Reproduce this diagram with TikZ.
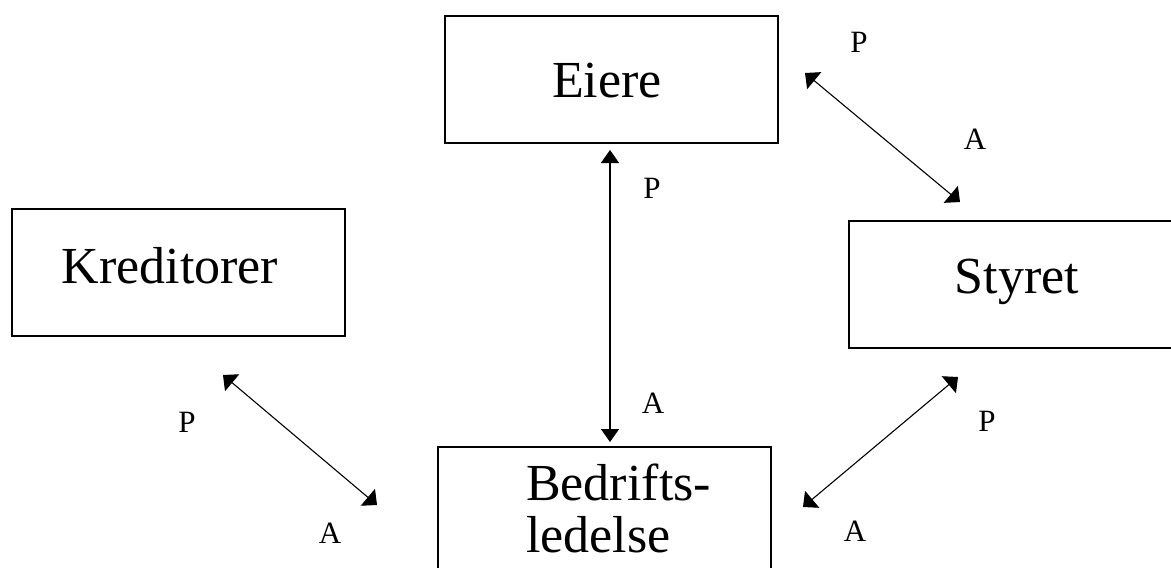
\documentclass[tikz,border=0pt]{standalone}
\usepackage{fontspec}
\setmainfont{Liberation Serif}
\usetikzlibrary{arrows.meta}
\tikzset{
  box/.style={draw=black, line width=2pt, minimum width=333pt, minimum height=127pt, inner sep=0pt},
  big/.style={font=\fontsize{52}{52}\selectfont, inner sep=0pt, anchor=base},
  lbl/.style={font=\fontsize{31}{31}\selectfont, inner sep=0pt},
  conn/.style={line width=1.3pt, {Triangle[length=13pt,width=18pt]}-{Triangle[length=13pt,width=18pt]}},
  dconn/.style={line width=1.1pt, {Triangle[length=12pt,width=22pt]}-{Triangle[length=12pt,width=22pt]}}
}
\begin{document}
\begin{tikzpicture}[x=1pt,y=-1pt]
\useasboundingbox[fill=white] (0,0) rectangle (1171,568);
\clip (0,0) rectangle (1171,568);
% boxes
\node[box] (eiere) at (611.5,79) {};
\node[box] (kred) at (178.5,272.5) {};
\node[box] (styret) at (1015.5,284.5) {};
\node[box] (bedr) at (604,510.5) {};
% texts
\node[big] (teiere) at (607,97) {Eiere};
\node[big] (tkred) at (170,283) {Kreditorer};
\node[big] (tstyret) at (1017,293) {Styret};
\node[big, anchor=base west] (tbedr1) at (526,500) {Bedrifts-};
\node[big, anchor=base west] (tbedr2) at (526,552) {ledelse};
% connector end points
\coordinate (v1) at (610,150);
\coordinate (v2) at (610,442);
\coordinate (es1) at (805,73);
\coordinate (es2) at (960,202);
\coordinate (kb1) at (223,375);
\coordinate (kb2) at (377,505);
\coordinate (sb1) at (958,377);
\coordinate (sb2) at (803,507);
\draw[conn] (v1) -- (v2);
\draw[dconn] (es1) -- (es2);
\draw[dconn] (kb1) -- (kb2);
\draw[dconn] (sb1) -- (sb2);
% labels
\node[lbl] (p1) at (859,42) {P};
\node[lbl] (a1) at (975,139) {A};
\node[lbl] (p2) at (652,188) {P};
\node[lbl] (a2) at (653,403) {A};
\node[lbl] (p3) at (187,422) {P};
\node[lbl] (a3) at (330,533) {A};
\node[lbl] (p4) at (987,421) {P};
\node[lbl] (a4) at (855,531) {A};
\end{tikzpicture}
\end{document}
